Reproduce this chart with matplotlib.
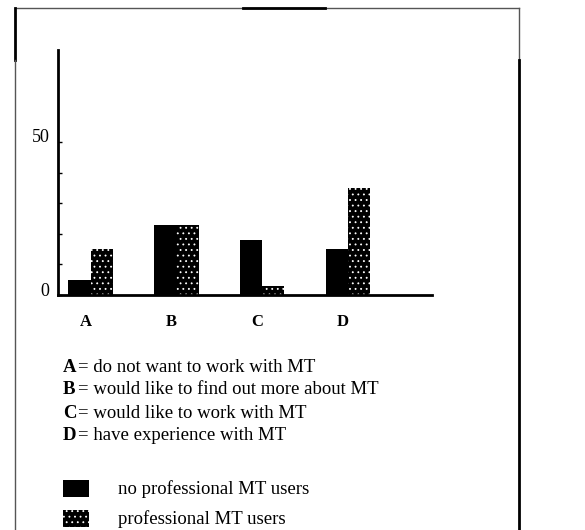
import matplotlib.pyplot as plt
import matplotlib.lines as mlines
import matplotlib.patches as mpatches
import matplotlib.transforms as mtransforms
import numpy as np

plt.rcParams['font.family'] = ['Liberation Serif', 'DejaVu Serif']
plt.rcParams['hatch.linewidth'] = 0.6

categories = ["A", "B", "C", "D"]
no_pro_users = [5, 23, 18, 15]
pro_users = [15, 23, 3, 35]
descriptions = [
    "do not want to work with MT",
    "would like to find out more about MT",
    "would like to work with MT",
    "have experience with MT",
]
series_names = ["no professional MT users", "professional MT users"]

W, H = 585, 530
fig = plt.figure(figsize=(W / 100, H / 100), dpi=100)
ax = fig.add_axes([58 / W, 1 - 295 / H, 374 / W, 245 / H])

x = np.arange(len(categories))
w = 0.26
ax.bar(x - w / 2, no_pro_users, w, color="black", linewidth=0)
ax.bar(x + w / 2, pro_users, w, color="black", edgecolor="white",
       hatch="...", linewidth=0)

ax.set_xlim(-0.38, 3.98)
ax.set_ylim(0, 80)
for side in ["top", "right"]:
    ax.spines[side].set_visible(False)
ax.spines["left"].set_linewidth(2)
ax.spines["bottom"].set_linewidth(2)

ax.set_yticks(np.arange(0, 60, 10))
ax.set_yticklabels(["0", "", "", "", "", "50"], fontsize=13)
ax.tick_params(axis="y", direction="in", length=3, width=1, pad=6)
# labels in the scan sit a little above their ticks
shift = mtransforms.ScaledTranslation(0, 6 / 100, fig.dpi_scale_trans)
for lbl in ax.get_yticklabels():
    lbl.set_transform(lbl.get_transform() + shift)

ax.set_xticks(x - 0.06)
ax.set_xticklabels(categories, fontsize=12, fontweight="bold")
ax.tick_params(axis="x", length=0, pad=14)

# key for the letters
for i, (cat, desc) in enumerate(zip(categories, descriptions)):
    ypos = 1 - (367 + i * 23) / H
    fig.text(63 / W, ypos, cat, fontsize=13.5, fontweight="bold", va="center")
    fig.text(78 / W, ypos, "= " + desc, fontsize=13.5, va="center")

# series legend
fig.patches.append(mpatches.Rectangle((63 / W, 1 - 497 / H), 26 / W, 17 / H,
                                      transform=fig.transFigure, color="black", lw=0))
fig.patches.append(mpatches.Rectangle((63 / W, 1 - 527 / H), 26 / W, 17 / H,
                                      transform=fig.transFigure, facecolor="black",
                                      edgecolor="white", hatch="...", lw=0))
fig.text(118 / W, 1 - 489 / H, series_names[0], fontsize=13.5, va="center")
fig.text(118 / W, 1 - 519 / H, series_names[1], fontsize=13.5, va="center")


# page border from the scan
def fig_line(xs, ys, lw, color="black"):
    fig.lines.append(mlines.Line2D([v / W for v in xs], [1 - v / H for v in ys],
                                   transform=fig.transFigure, color=color, lw=lw))


fig_line([15, 519], [8, 8], 1, "#555555")
fig_line([243, 325], [8, 8], 2)
fig_line([15, 15], [8, 60], 2)
fig_line([15, 15], [60, H], 1, "#555555")
fig_line([519, 519], [8, 60], 1, "#555555")
fig_line([519, 519], [60, H], 2)

fig.savefig("out.png", dpi=100)
